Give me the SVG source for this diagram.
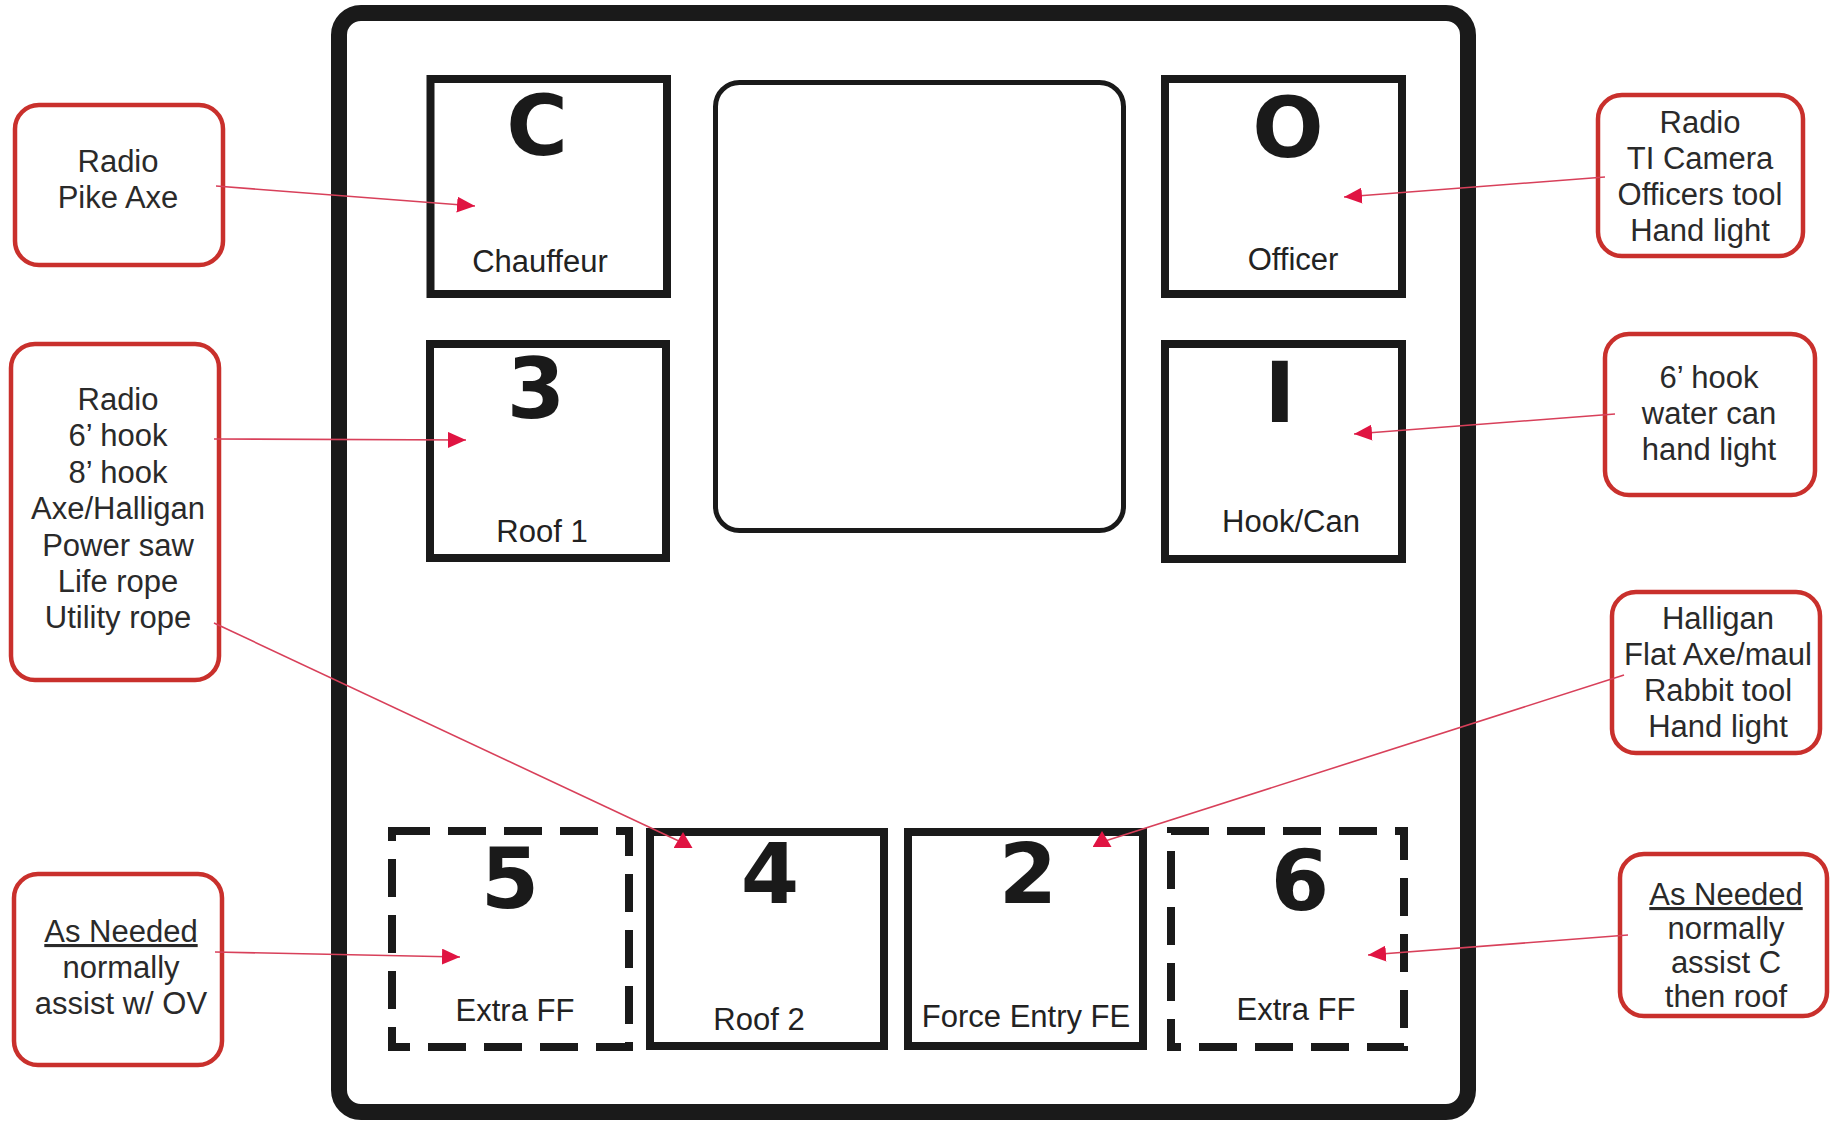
<svg xmlns="http://www.w3.org/2000/svg" width="1837" height="1121" viewBox="0 0 1837 1121">
<style>
  .frame{fill:#fff;stroke:#1a1a1a;stroke-width:16}
  .seat{fill:#fff;stroke:#1a1a1a;stroke-width:8}
  .dash{fill:none;stroke:#1a1a1a;stroke-width:8;stroke-dasharray:38 18}
  .console{fill:#fff;stroke:#1a1a1a;stroke-width:5}
  .callout{fill:#fff;stroke:#c9302c;stroke-width:4.5}
  .big{font-family:"DejaVu Sans",sans-serif;font-weight:bold;font-size:84px;fill:#1a1a1a;text-anchor:middle}
  .lbl{font-family:"Liberation Sans",Arial,sans-serif;font-size:31px;fill:#222;text-anchor:middle}
  .ct{font-family:"Liberation Sans",Arial,sans-serif;font-size:31px;fill:#2a2a2a;text-anchor:middle}
  .u{text-decoration:underline}
  .conn{fill:none;stroke:#d8405a;stroke-width:1.6}
</style>
<defs>
  <marker id="ah" viewBox="0 0 18 16" refX="18" refY="8" markerWidth="18" markerHeight="16" markerUnits="userSpaceOnUse" orient="auto">
    <path d="M0,0 L18,8 L0,16 z" fill="#e01442"/>
  </marker>
  <marker id="ahUp" viewBox="0 0 16 19" refX="5" refY="9.5" markerWidth="16" markerHeight="19" markerUnits="userSpaceOnUse" orient="270">
    <path d="M0,0 L16,9.5 L0,19 z" fill="#e01442"/>
  </marker>
</defs>
<rect x="0" y="0" width="1837" height="1121" fill="#fff"/>

<g id="apparatus">
  <rect class="frame" x="339" y="13" width="1129" height="1099" rx="22"/>
  <rect class="console" x="715.5" y="82.5" width="408" height="448" rx="24"/>
</g>

<g id="seat-C">
  <rect class="seat" x="430.5" y="79" width="236.5" height="215"/>
  <text class="big" x="537" y="155">C</text>
  <text class="lbl" x="540" y="272">Chauffeur</text>
</g>
<g id="seat-O">
  <rect class="seat" x="1165" y="79" width="237" height="215"/>
  <text class="big" x="1288" y="157">O</text>
  <text class="lbl" x="1293" y="270">Officer</text>
</g>
<g id="seat-3">
  <rect class="seat" x="430" y="344" width="236" height="214"/>
  <text class="big" x="536" y="418">3</text>
  <text class="lbl" x="542" y="542">Roof 1</text>
</g>
<g id="seat-1">
  <rect class="seat" x="1165" y="344" width="237" height="215"/>
  <text class="big" x="1280" y="422">I</text>
  <text class="lbl" x="1291" y="532">Hook/Can</text>
</g>
<g id="seat-5">
  <rect class="dash" x="392" y="831" width="237" height="216"/>
  <text class="big" x="510" y="908">5</text>
  <text class="lbl" x="515" y="1021">Extra FF</text>
</g>
<g id="seat-4">
  <rect class="seat" x="650" y="832" width="234" height="214"/>
  <text class="big" x="770" y="903">4</text>
  <text class="lbl" x="759" y="1030">Roof 2</text>
</g>
<g id="seat-2">
  <rect class="seat" x="908" y="832" width="235" height="214"/>
  <text class="big" x="1028" y="903">2</text>
  <text class="lbl" x="1026" y="1027">Force Entry FE</text>
</g>
<g id="seat-6">
  <rect class="dash" x="1171" y="831" width="233" height="216"/>
  <text class="big" x="1300" y="910">6</text>
  <text class="lbl" x="1296" y="1020">Extra FF</text>
</g>

<g id="note-C">
  <rect class="callout" x="15" y="105" width="208" height="160" rx="24"/>
  <text class="ct" x="118" y="172">Radio</text>
  <text class="ct" x="118" y="208">Pike Axe</text>
</g>
<g id="note-O">
  <rect class="callout" x="1598" y="95" width="205" height="161" rx="24"/>
  <text class="ct" x="1700" y="133">Radio</text>
  <text class="ct" x="1700" y="169">TI Camera</text>
  <text class="ct" x="1700" y="205">Officers tool</text>
  <text class="ct" x="1700" y="241">Hand light</text>
</g>
<g id="note-3-4">
  <rect class="callout" x="11" y="344" width="208" height="336" rx="24"/>
  <text class="ct" x="118" y="410">Radio</text>
  <text class="ct" x="118" y="446">6’ hook</text>
  <text class="ct" x="118" y="483">8’ hook</text>
  <text class="ct" x="118" y="519">Axe/Halligan</text>
  <text class="ct" x="118" y="556">Power saw</text>
  <text class="ct" x="118" y="592">Life rope</text>
  <text class="ct" x="118" y="628">Utility rope</text>
</g>
<g id="note-1">
  <rect class="callout" x="1605" y="334" width="210" height="161" rx="24"/>
  <text class="ct" x="1709" y="388">6’ hook</text>
  <text class="ct" x="1709" y="424">water can</text>
  <text class="ct" x="1709" y="460">hand light</text>
</g>
<g id="note-2">
  <rect class="callout" x="1612" y="592" width="208" height="161" rx="24"/>
  <text class="ct" x="1718" y="629">Halligan</text>
  <text class="ct" x="1718" y="665">Flat Axe/maul</text>
  <text class="ct" x="1718" y="701">Rabbit tool</text>
  <text class="ct" x="1718" y="737">Hand light</text>
</g>
<g id="note-5">
  <rect class="callout" x="14" y="874" width="208" height="191" rx="24"/>
  <text class="ct u" x="121" y="942">As Needed</text>
  <text class="ct" x="121" y="978">normally</text>
  <text class="ct" x="121" y="1014">assist w/ OV</text>
</g>
<g id="note-6">
  <rect class="callout" x="1620" y="854" width="207" height="162" rx="24"/>
  <text class="ct u" x="1726" y="905">As Needed</text>
  <text class="ct" x="1726" y="939">normally</text>
  <text class="ct" x="1726" y="973">assist C</text>
  <text class="ct" x="1726" y="1007">then roof</text>
</g>

<g id="connectors">
  <line class="conn" x1="216" y1="186" x2="475" y2="206" marker-end="url(#ah)"/>
  <line class="conn" x1="1605" y1="177" x2="1344" y2="197" marker-end="url(#ah)"/>
  <line class="conn" x1="214" y1="439" x2="466" y2="440" marker-end="url(#ah)"/>
  <line class="conn" x1="1615" y1="414" x2="1354" y2="434" marker-end="url(#ah)"/>
  <line class="conn" x1="214" y1="623" x2="683" y2="843" marker-end="url(#ahUp)"/>
  <line class="conn" x1="1624" y1="675" x2="1102" y2="842" marker-end="url(#ahUp)"/>
  <line class="conn" x1="215" y1="952" x2="460" y2="957" marker-end="url(#ah)"/>
  <line class="conn" x1="1628" y1="935" x2="1368" y2="955" marker-end="url(#ah)"/>
</g>
</svg>
